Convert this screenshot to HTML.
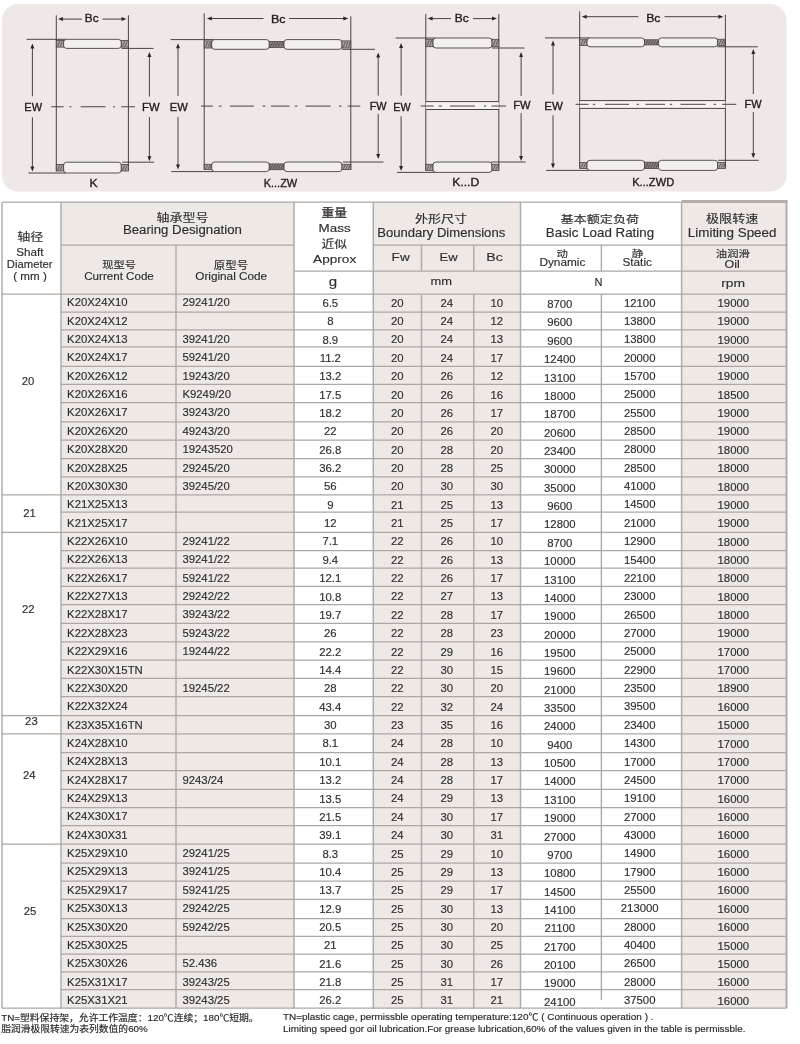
<!DOCTYPE html><html><head><meta charset="utf-8"><title>K type needle roller and cage assemblies</title>
<style>html,body{margin:0;padding:0;background:#fff;}body{width:800px;height:1044px;overflow:hidden;position:relative;}svg{position:absolute;left:0;top:0;} text{font-family:'Liberation Sans','Noto Sans CJK SC',sans-serif;}</style></head><body>
<svg width="800" height="1044" viewBox="0 0 800 1044" fill="#2e2e2e">
<rect x="2" y="4" width="784.5" height="187.5" rx="16" ry="16" fill="#eee9e7"/>
<g><line x1="56.30" y1="15.30" x2="56.30" y2="171.00" stroke="#4a4240" stroke-width="1.0"/><line x1="128.40" y1="15.30" x2="128.40" y2="171.00" stroke="#4a4240" stroke-width="1.0"/><line x1="26.60" y1="39.30" x2="66.10" y2="39.30" stroke="#4a4240" stroke-width="1.0"/><line x1="28.40" y1="173.00" x2="66.10" y2="173.00" stroke="#4a4240" stroke-width="1.0"/><line x1="121.50" y1="48.40" x2="153.50" y2="48.40" stroke="#4a4240" stroke-width="1.0"/><line x1="122.20" y1="162.20" x2="154.00" y2="162.20" stroke="#4a4240" stroke-width="1.0"/><rect x="56.30" y="40.60" width="7.30" height="6.50" fill="#aaa3a0" stroke="#4a4240" stroke-width="0.8"/><line x1="57.50" y1="46.30" x2="59.70" y2="41.40" stroke="#3e3634" stroke-width="0.7"/><line x1="60.10" y1="46.30" x2="62.30" y2="41.40" stroke="#3e3634" stroke-width="0.7"/><rect x="63.60" y="39.30" width="57.70" height="9.10" rx="3.0" ry="3.0" fill="#f3efed" stroke="#4a4240" stroke-width="0.9"/><rect x="121.30" y="40.60" width="7.10" height="6.50" fill="#aaa3a0" stroke="#4a4240" stroke-width="0.8"/><line x1="122.50" y1="46.30" x2="124.70" y2="41.40" stroke="#3e3634" stroke-width="0.7"/><line x1="125.10" y1="46.30" x2="127.30" y2="41.40" stroke="#3e3634" stroke-width="0.7"/><rect x="56.30" y="164.50" width="7.30" height="6.50" fill="#aaa3a0" stroke="#4a4240" stroke-width="0.8"/><line x1="57.50" y1="170.20" x2="59.70" y2="165.30" stroke="#3e3634" stroke-width="0.7"/><line x1="60.10" y1="170.20" x2="62.30" y2="165.30" stroke="#3e3634" stroke-width="0.7"/><rect x="63.60" y="162.20" width="57.70" height="10.80" rx="3.0" ry="3.0" fill="#f3efed" stroke="#4a4240" stroke-width="0.9"/><rect x="121.30" y="164.50" width="7.10" height="6.50" fill="#aaa3a0" stroke="#4a4240" stroke-width="0.8"/><line x1="122.50" y1="170.20" x2="124.70" y2="165.30" stroke="#3e3634" stroke-width="0.7"/><line x1="125.10" y1="170.20" x2="127.30" y2="165.30" stroke="#3e3634" stroke-width="0.7"/><line x1="32.40" y1="47.40" x2="32.40" y2="96.30" stroke="#4a4240" stroke-width="1.0"/><line x1="32.40" y1="117.30" x2="32.40" y2="167.60" stroke="#4a4240" stroke-width="1.0"/><polygon points="32.40,43.40 30.40,48.40 34.40,48.40" fill="#2e2624"/><polygon points="32.40,171.60 30.40,166.60 34.40,166.60" fill="#2e2624"/><line x1="149.40" y1="55.90" x2="149.40" y2="96.50" stroke="#4a4240" stroke-width="1.0"/><line x1="149.40" y1="117.00" x2="149.40" y2="157.30" stroke="#4a4240" stroke-width="1.0"/><polygon points="149.40,51.90 147.40,56.90 151.40,56.90" fill="#2e2624"/><polygon points="149.40,161.30 147.40,156.30 151.40,156.30" fill="#2e2624"/><line x1="62.00" y1="19.10" x2="81.90" y2="19.10" stroke="#4a4240" stroke-width="1.0"/><line x1="102.50" y1="19.10" x2="122.50" y2="19.10" stroke="#4a4240" stroke-width="1.0"/><polygon points="58.00,19.10 63.00,17.10 63.00,21.10" fill="#2e2624"/><polygon points="126.50,19.10 121.50,17.10 121.50,21.10" fill="#2e2624"/><line x1="51.25" y1="106.75" x2="63.75" y2="106.75" stroke="#4a4240" stroke-width="1.0"/><line x1="69.40" y1="106.75" x2="71.50" y2="106.75" stroke="#4a4240" stroke-width="1.0"/><line x1="80.60" y1="106.75" x2="105.60" y2="106.75" stroke="#4a4240" stroke-width="1.0"/><line x1="113.10" y1="106.75" x2="115.00" y2="106.75" stroke="#4a4240" stroke-width="1.0"/><line x1="121.25" y1="106.75" x2="135.00" y2="106.75" stroke="#4a4240" stroke-width="1.0"/><line x1="204.20" y1="13.30" x2="204.20" y2="169.60" stroke="#4a4240" stroke-width="1.0"/><line x1="350.80" y1="16.30" x2="350.80" y2="169.60" stroke="#4a4240" stroke-width="1.0"/><line x1="170.50" y1="39.60" x2="214.20" y2="39.60" stroke="#4a4240" stroke-width="1.0"/><line x1="171.40" y1="171.60" x2="214.20" y2="171.60" stroke="#4a4240" stroke-width="1.0"/><line x1="342.00" y1="49.30" x2="375.00" y2="49.30" stroke="#4a4240" stroke-width="1.0"/><line x1="343.00" y1="162.00" x2="383.50" y2="162.00" stroke="#4a4240" stroke-width="1.0"/><rect x="204.20" y="40.90" width="7.50" height="7.10" fill="#aaa3a0" stroke="#4a4240" stroke-width="0.8"/><line x1="205.40" y1="47.20" x2="207.60" y2="41.70" stroke="#3e3634" stroke-width="0.7"/><line x1="208.00" y1="47.20" x2="210.20" y2="41.70" stroke="#3e3634" stroke-width="0.7"/><line x1="210.60" y1="47.20" x2="211.30" y2="41.70" stroke="#3e3634" stroke-width="0.7"/><rect x="211.70" y="39.60" width="57.60" height="9.70" rx="3.0" ry="3.0" fill="#f3efed" stroke="#4a4240" stroke-width="0.9"/><rect x="269.30" y="41.50" width="14.70" height="5.90" fill="#8a827f" stroke="#4a4240" stroke-width="0.8"/><line x1="270.50" y1="46.60" x2="272.70" y2="42.30" stroke="#3e3634" stroke-width="0.7"/><line x1="273.10" y1="46.60" x2="275.30" y2="42.30" stroke="#3e3634" stroke-width="0.7"/><line x1="275.70" y1="46.60" x2="277.90" y2="42.30" stroke="#3e3634" stroke-width="0.7"/><line x1="278.30" y1="46.60" x2="280.50" y2="42.30" stroke="#3e3634" stroke-width="0.7"/><line x1="280.90" y1="46.60" x2="283.10" y2="42.30" stroke="#3e3634" stroke-width="0.7"/><rect x="284.00" y="39.60" width="58.00" height="9.70" rx="3.0" ry="3.0" fill="#f3efed" stroke="#4a4240" stroke-width="0.9"/><rect x="342.00" y="40.90" width="8.80" height="7.10" fill="#aaa3a0" stroke="#4a4240" stroke-width="0.8"/><line x1="343.20" y1="47.20" x2="345.40" y2="41.70" stroke="#3e3634" stroke-width="0.7"/><line x1="345.80" y1="47.20" x2="348.00" y2="41.70" stroke="#3e3634" stroke-width="0.7"/><line x1="348.40" y1="47.20" x2="350.40" y2="41.70" stroke="#3e3634" stroke-width="0.7"/><rect x="204.20" y="164.30" width="7.50" height="5.30" fill="#aaa3a0" stroke="#4a4240" stroke-width="0.8"/><line x1="205.40" y1="168.80" x2="207.60" y2="165.10" stroke="#3e3634" stroke-width="0.7"/><line x1="208.00" y1="168.80" x2="210.20" y2="165.10" stroke="#3e3634" stroke-width="0.7"/><line x1="210.60" y1="168.80" x2="211.30" y2="165.10" stroke="#3e3634" stroke-width="0.7"/><rect x="211.70" y="162.00" width="57.60" height="9.60" rx="3.0" ry="3.0" fill="#f3efed" stroke="#4a4240" stroke-width="0.9"/><rect x="269.30" y="163.90" width="14.70" height="5.80" fill="#8a827f" stroke="#4a4240" stroke-width="0.8"/><line x1="270.50" y1="168.90" x2="272.70" y2="164.70" stroke="#3e3634" stroke-width="0.7"/><line x1="273.10" y1="168.90" x2="275.30" y2="164.70" stroke="#3e3634" stroke-width="0.7"/><line x1="275.70" y1="168.90" x2="277.90" y2="164.70" stroke="#3e3634" stroke-width="0.7"/><line x1="278.30" y1="168.90" x2="280.50" y2="164.70" stroke="#3e3634" stroke-width="0.7"/><line x1="280.90" y1="168.90" x2="283.10" y2="164.70" stroke="#3e3634" stroke-width="0.7"/><rect x="284.00" y="162.00" width="58.00" height="9.60" rx="3.0" ry="3.0" fill="#f3efed" stroke="#4a4240" stroke-width="0.9"/><rect x="342.00" y="164.30" width="8.80" height="5.30" fill="#aaa3a0" stroke="#4a4240" stroke-width="0.8"/><line x1="343.20" y1="168.80" x2="345.40" y2="165.10" stroke="#3e3634" stroke-width="0.7"/><line x1="345.80" y1="168.80" x2="348.00" y2="165.10" stroke="#3e3634" stroke-width="0.7"/><line x1="348.40" y1="168.80" x2="350.40" y2="165.10" stroke="#3e3634" stroke-width="0.7"/><line x1="178.00" y1="47.30" x2="178.00" y2="96.00" stroke="#4a4240" stroke-width="1.0"/><line x1="178.00" y1="117.00" x2="178.00" y2="165.50" stroke="#4a4240" stroke-width="1.0"/><polygon points="178.00,43.30 176.00,48.30 180.00,48.30" fill="#2e2624"/><polygon points="178.00,169.50 176.00,164.50 180.00,164.50" fill="#2e2624"/><line x1="378.20" y1="56.50" x2="378.20" y2="95.60" stroke="#4a4240" stroke-width="1.0"/><line x1="378.20" y1="113.90" x2="378.20" y2="155.00" stroke="#4a4240" stroke-width="1.0"/><polygon points="378.20,52.50 376.20,57.50 380.20,57.50" fill="#2e2624"/><polygon points="378.20,159.00 376.20,154.00 380.20,154.00" fill="#2e2624"/><line x1="210.80" y1="18.50" x2="263.50" y2="18.50" stroke="#4a4240" stroke-width="1.0"/><line x1="289.00" y1="18.50" x2="344.30" y2="18.50" stroke="#4a4240" stroke-width="1.0"/><polygon points="206.80,18.50 211.80,16.50 211.80,20.50" fill="#2e2624"/><polygon points="348.30,18.50 343.30,16.50 343.30,20.50" fill="#2e2624"/><line x1="201.00" y1="106.10" x2="213.00" y2="106.10" stroke="#4a4240" stroke-width="1.0"/><line x1="218.80" y1="106.10" x2="221.60" y2="106.10" stroke="#4a4240" stroke-width="1.0"/><line x1="230.00" y1="106.10" x2="254.00" y2="106.10" stroke="#4a4240" stroke-width="1.0"/><line x1="262.60" y1="106.10" x2="265.50" y2="106.10" stroke="#4a4240" stroke-width="1.0"/><line x1="271.00" y1="106.10" x2="289.60" y2="106.10" stroke="#4a4240" stroke-width="1.0"/><line x1="294.90" y1="106.10" x2="297.40" y2="106.10" stroke="#4a4240" stroke-width="1.0"/><line x1="305.50" y1="106.10" x2="330.60" y2="106.10" stroke="#4a4240" stroke-width="1.0"/><line x1="339.00" y1="106.10" x2="341.60" y2="106.10" stroke="#4a4240" stroke-width="1.0"/><line x1="347.60" y1="106.10" x2="360.30" y2="106.10" stroke="#4a4240" stroke-width="1.0"/><line x1="425.80" y1="14.00" x2="425.80" y2="170.40" stroke="#4a4240" stroke-width="1.0"/><line x1="498.80" y1="14.00" x2="498.80" y2="170.40" stroke="#4a4240" stroke-width="1.0"/><line x1="395.60" y1="38.00" x2="435.50" y2="38.00" stroke="#4a4240" stroke-width="1.0"/><line x1="397.00" y1="172.40" x2="435.50" y2="172.40" stroke="#4a4240" stroke-width="1.0"/><line x1="492.00" y1="48.00" x2="524.40" y2="48.00" stroke="#4a4240" stroke-width="1.0"/><line x1="491.00" y1="162.00" x2="525.60" y2="162.00" stroke="#4a4240" stroke-width="1.0"/><rect x="425.80" y="39.30" width="7.20" height="7.40" fill="#aaa3a0" stroke="#4a4240" stroke-width="0.8"/><line x1="427.00" y1="45.90" x2="429.20" y2="40.10" stroke="#3e3634" stroke-width="0.7"/><line x1="429.60" y1="45.90" x2="431.80" y2="40.10" stroke="#3e3634" stroke-width="0.7"/><rect x="433.00" y="38.00" width="59.00" height="10.00" rx="3.0" ry="3.0" fill="#f3efed" stroke="#4a4240" stroke-width="0.9"/><rect x="492.00" y="39.30" width="6.80" height="7.40" fill="#aaa3a0" stroke="#4a4240" stroke-width="0.8"/><line x1="493.20" y1="45.90" x2="495.40" y2="40.10" stroke="#3e3634" stroke-width="0.7"/><line x1="495.80" y1="45.90" x2="498.00" y2="40.10" stroke="#3e3634" stroke-width="0.7"/><rect x="425.80" y="164.30" width="7.20" height="6.10" fill="#aaa3a0" stroke="#4a4240" stroke-width="0.8"/><line x1="427.00" y1="169.60" x2="429.20" y2="165.10" stroke="#3e3634" stroke-width="0.7"/><line x1="429.60" y1="169.60" x2="431.80" y2="165.10" stroke="#3e3634" stroke-width="0.7"/><rect x="433.00" y="162.00" width="59.00" height="10.40" rx="3.0" ry="3.0" fill="#f3efed" stroke="#4a4240" stroke-width="0.9"/><rect x="492.00" y="164.30" width="6.80" height="6.10" fill="#aaa3a0" stroke="#4a4240" stroke-width="0.8"/><line x1="493.20" y1="169.60" x2="495.40" y2="165.10" stroke="#3e3634" stroke-width="0.7"/><line x1="495.80" y1="169.60" x2="498.00" y2="165.10" stroke="#3e3634" stroke-width="0.7"/><line x1="401.10" y1="47.00" x2="401.10" y2="95.60" stroke="#4a4240" stroke-width="1.0"/><line x1="401.10" y1="116.30" x2="401.10" y2="167.00" stroke="#4a4240" stroke-width="1.0"/><polygon points="401.10,43.00 399.10,48.00 403.10,48.00" fill="#2e2624"/><polygon points="401.10,171.00 399.10,166.00 403.10,166.00" fill="#2e2624"/><line x1="521.10" y1="56.00" x2="521.10" y2="96.00" stroke="#4a4240" stroke-width="1.0"/><line x1="521.10" y1="113.00" x2="521.10" y2="157.00" stroke="#4a4240" stroke-width="1.0"/><polygon points="521.10,52.00 519.10,57.00 523.10,57.00" fill="#2e2624"/><polygon points="521.10,161.00 519.10,156.00 523.10,156.00" fill="#2e2624"/><line x1="431.60" y1="18.60" x2="451.00" y2="18.60" stroke="#4a4240" stroke-width="1.0"/><line x1="473.00" y1="18.60" x2="493.00" y2="18.60" stroke="#4a4240" stroke-width="1.0"/><polygon points="427.60,18.60 432.60,16.60 432.60,20.60" fill="#2e2624"/><polygon points="497.00,18.60 492.00,16.60 492.00,20.60" fill="#2e2624"/><rect x="425.80" y="101.60" width="73.00" height="7.90" fill="#f6f3f1"/><line x1="425.80" y1="101.60" x2="498.80" y2="101.60" stroke="#4a4240" stroke-width="1.0"/><line x1="425.80" y1="109.50" x2="498.80" y2="109.50" stroke="#4a4240" stroke-width="1.0"/><line x1="420.60" y1="106.00" x2="433.75" y2="106.00" stroke="#4a4240" stroke-width="1.0"/><line x1="438.75" y1="106.00" x2="441.90" y2="106.00" stroke="#4a4240" stroke-width="1.0"/><line x1="450.00" y1="106.00" x2="475.00" y2="106.00" stroke="#4a4240" stroke-width="1.0"/><line x1="484.00" y1="106.00" x2="486.25" y2="106.00" stroke="#4a4240" stroke-width="1.0"/><line x1="491.50" y1="106.00" x2="506.00" y2="106.00" stroke="#4a4240" stroke-width="1.0"/><line x1="579.70" y1="11.40" x2="579.70" y2="168.40" stroke="#4a4240" stroke-width="1.0"/><line x1="725.40" y1="14.60" x2="725.40" y2="168.40" stroke="#4a4240" stroke-width="1.0"/><line x1="545.00" y1="37.90" x2="589.50" y2="37.90" stroke="#4a4240" stroke-width="1.0"/><line x1="546.00" y1="170.40" x2="589.50" y2="170.40" stroke="#4a4240" stroke-width="1.0"/><line x1="717.50" y1="46.80" x2="757.80" y2="46.80" stroke="#4a4240" stroke-width="1.0"/><line x1="718.00" y1="160.30" x2="758.80" y2="160.30" stroke="#4a4240" stroke-width="1.0"/><rect x="579.70" y="39.20" width="7.30" height="6.30" fill="#aaa3a0" stroke="#4a4240" stroke-width="0.8"/><line x1="580.90" y1="44.70" x2="583.10" y2="40.00" stroke="#3e3634" stroke-width="0.7"/><line x1="583.50" y1="44.70" x2="585.70" y2="40.00" stroke="#3e3634" stroke-width="0.7"/><rect x="587.00" y="37.90" width="57.50" height="8.90" rx="3.0" ry="3.0" fill="#f3efed" stroke="#4a4240" stroke-width="0.9"/><rect x="644.50" y="39.80" width="14.00" height="5.10" fill="#8a827f" stroke="#4a4240" stroke-width="0.8"/><line x1="645.70" y1="44.10" x2="647.90" y2="40.60" stroke="#3e3634" stroke-width="0.7"/><line x1="648.30" y1="44.10" x2="650.50" y2="40.60" stroke="#3e3634" stroke-width="0.7"/><line x1="650.90" y1="44.10" x2="653.10" y2="40.60" stroke="#3e3634" stroke-width="0.7"/><line x1="653.50" y1="44.10" x2="655.70" y2="40.60" stroke="#3e3634" stroke-width="0.7"/><line x1="656.10" y1="44.10" x2="658.10" y2="40.60" stroke="#3e3634" stroke-width="0.7"/><rect x="658.50" y="37.90" width="59.20" height="8.90" rx="3.0" ry="3.0" fill="#f3efed" stroke="#4a4240" stroke-width="0.9"/><rect x="717.70" y="39.20" width="7.70" height="6.30" fill="#aaa3a0" stroke="#4a4240" stroke-width="0.8"/><line x1="718.90" y1="44.70" x2="721.10" y2="40.00" stroke="#3e3634" stroke-width="0.7"/><line x1="721.50" y1="44.70" x2="723.70" y2="40.00" stroke="#3e3634" stroke-width="0.7"/><line x1="724.10" y1="44.70" x2="725.00" y2="40.00" stroke="#3e3634" stroke-width="0.7"/><rect x="579.70" y="162.60" width="7.30" height="5.80" fill="#aaa3a0" stroke="#4a4240" stroke-width="0.8"/><line x1="580.90" y1="167.60" x2="583.10" y2="163.40" stroke="#3e3634" stroke-width="0.7"/><line x1="583.50" y1="167.60" x2="585.70" y2="163.40" stroke="#3e3634" stroke-width="0.7"/><rect x="587.00" y="160.30" width="57.50" height="10.10" rx="3.0" ry="3.0" fill="#f3efed" stroke="#4a4240" stroke-width="0.9"/><rect x="644.50" y="162.20" width="14.00" height="6.30" fill="#8a827f" stroke="#4a4240" stroke-width="0.8"/><line x1="645.70" y1="167.70" x2="647.90" y2="163.00" stroke="#3e3634" stroke-width="0.7"/><line x1="648.30" y1="167.70" x2="650.50" y2="163.00" stroke="#3e3634" stroke-width="0.7"/><line x1="650.90" y1="167.70" x2="653.10" y2="163.00" stroke="#3e3634" stroke-width="0.7"/><line x1="653.50" y1="167.70" x2="655.70" y2="163.00" stroke="#3e3634" stroke-width="0.7"/><line x1="656.10" y1="167.70" x2="658.10" y2="163.00" stroke="#3e3634" stroke-width="0.7"/><rect x="658.50" y="160.30" width="59.20" height="10.10" rx="3.0" ry="3.0" fill="#f3efed" stroke="#4a4240" stroke-width="0.9"/><rect x="717.70" y="162.60" width="7.70" height="5.80" fill="#aaa3a0" stroke="#4a4240" stroke-width="0.8"/><line x1="718.90" y1="167.60" x2="721.10" y2="163.40" stroke="#3e3634" stroke-width="0.7"/><line x1="721.50" y1="167.60" x2="723.70" y2="163.40" stroke="#3e3634" stroke-width="0.7"/><line x1="724.10" y1="167.60" x2="725.00" y2="163.40" stroke="#3e3634" stroke-width="0.7"/><line x1="553.00" y1="44.50" x2="553.00" y2="94.40" stroke="#4a4240" stroke-width="1.0"/><line x1="553.00" y1="115.30" x2="553.00" y2="164.40" stroke="#4a4240" stroke-width="1.0"/><polygon points="553.00,40.50 551.00,45.50 555.00,45.50" fill="#2e2624"/><polygon points="553.00,168.40 551.00,163.40 555.00,163.40" fill="#2e2624"/><line x1="753.30" y1="53.00" x2="753.30" y2="94.00" stroke="#4a4240" stroke-width="1.0"/><line x1="753.30" y1="111.90" x2="753.30" y2="154.30" stroke="#4a4240" stroke-width="1.0"/><polygon points="753.30,49.00 751.30,54.00 755.30,54.00" fill="#2e2624"/><polygon points="753.30,158.30 751.30,153.30 755.30,153.30" fill="#2e2624"/><line x1="585.70" y1="16.70" x2="638.40" y2="16.70" stroke="#4a4240" stroke-width="1.0"/><line x1="664.60" y1="16.70" x2="719.40" y2="16.70" stroke="#4a4240" stroke-width="1.0"/><polygon points="581.70,16.70 586.70,14.70 586.70,18.70" fill="#2e2624"/><polygon points="723.40,16.70 718.40,14.70 718.40,18.70" fill="#2e2624"/><rect x="579.70" y="100.60" width="145.70" height="7.80" fill="#f6f3f1"/><line x1="579.70" y1="100.60" x2="725.40" y2="100.60" stroke="#4a4240" stroke-width="1.0"/><line x1="579.70" y1="108.40" x2="725.40" y2="108.40" stroke="#4a4240" stroke-width="1.0"/><line x1="575.50" y1="104.30" x2="588.60" y2="104.30" stroke="#4a4240" stroke-width="1.0"/><line x1="592.80" y1="104.30" x2="595.20" y2="104.30" stroke="#4a4240" stroke-width="1.0"/><line x1="605.00" y1="104.30" x2="629.00" y2="104.30" stroke="#4a4240" stroke-width="1.0"/><line x1="636.60" y1="104.30" x2="639.00" y2="104.30" stroke="#4a4240" stroke-width="1.0"/><line x1="645.50" y1="104.30" x2="665.00" y2="104.30" stroke="#4a4240" stroke-width="1.0"/><line x1="669.80" y1="104.30" x2="672.20" y2="104.30" stroke="#4a4240" stroke-width="1.0"/><line x1="680.50" y1="104.30" x2="705.60" y2="104.30" stroke="#4a4240" stroke-width="1.0"/><line x1="713.60" y1="104.30" x2="716.00" y2="104.30" stroke="#4a4240" stroke-width="1.0"/><line x1="722.00" y1="104.30" x2="736.30" y2="104.30" stroke="#4a4240" stroke-width="1.0"/></g>
<text x="91.70" y="22.40" font-size="11" text-anchor="middle" textLength="13.74" lengthAdjust="spacingAndGlyphs" fill="#221d1c" stroke="#221d1c" stroke-width="0.35">Bc</text>
<text x="33.17" y="110.90" font-size="11" text-anchor="middle" textLength="17.69" lengthAdjust="spacingAndGlyphs" fill="#221d1c" stroke="#221d1c" stroke-width="0.35">EW</text>
<text x="150.80" y="110.70" font-size="11" text-anchor="middle" textLength="17.54" lengthAdjust="spacingAndGlyphs" fill="#221d1c" stroke="#221d1c" stroke-width="0.35">FW</text>
<text x="93.60" y="186.60" font-size="11" text-anchor="middle" textLength="8.14" lengthAdjust="spacingAndGlyphs" fill="#221d1c" stroke="#221d1c" stroke-width="0.35">K</text>
<text x="278.30" y="23.00" font-size="11" text-anchor="middle" textLength="14.54" lengthAdjust="spacingAndGlyphs" fill="#221d1c" stroke="#221d1c" stroke-width="0.35">Bc</text>
<text x="178.75" y="111.00" font-size="11" text-anchor="middle" textLength="18.04" lengthAdjust="spacingAndGlyphs" fill="#221d1c" stroke="#221d1c" stroke-width="0.35">EW</text>
<text x="378.20" y="110.10" font-size="11" text-anchor="middle" textLength="16.94" lengthAdjust="spacingAndGlyphs" fill="#221d1c" stroke="#221d1c" stroke-width="0.35">FW</text>
<text x="280.45" y="186.60" font-size="11" text-anchor="middle" textLength="33.64" lengthAdjust="spacingAndGlyphs" fill="#221d1c" stroke="#221d1c" stroke-width="0.35">K...ZW</text>
<text x="461.80" y="22.20" font-size="11" text-anchor="middle" textLength="13.94" lengthAdjust="spacingAndGlyphs" fill="#221d1c" stroke="#221d1c" stroke-width="0.35">Bc</text>
<text x="402.00" y="110.60" font-size="11" text-anchor="middle" textLength="17.34" lengthAdjust="spacingAndGlyphs" fill="#221d1c" stroke="#221d1c" stroke-width="0.35">EW</text>
<text x="521.88" y="109.00" font-size="11" text-anchor="middle" textLength="17.29" lengthAdjust="spacingAndGlyphs" fill="#221d1c" stroke="#221d1c" stroke-width="0.35">FW</text>
<text x="465.70" y="186.30" font-size="11" text-anchor="middle" textLength="26.94" lengthAdjust="spacingAndGlyphs" fill="#221d1c" stroke="#221d1c" stroke-width="0.35">K...D</text>
<text x="653.35" y="22.00" font-size="11" text-anchor="middle" textLength="14.24" lengthAdjust="spacingAndGlyphs" fill="#221d1c" stroke="#221d1c" stroke-width="0.35">Bc</text>
<text x="553.50" y="109.70" font-size="11" text-anchor="middle" textLength="18.54" lengthAdjust="spacingAndGlyphs" fill="#221d1c" stroke="#221d1c" stroke-width="0.35">EW</text>
<text x="753.10" y="107.80" font-size="11" text-anchor="middle" textLength="17.14" lengthAdjust="spacingAndGlyphs" fill="#221d1c" stroke="#221d1c" stroke-width="0.35">FW</text>
<text x="653.20" y="186.30" font-size="11" text-anchor="middle" textLength="41.94" lengthAdjust="spacingAndGlyphs" fill="#221d1c" stroke="#221d1c" stroke-width="0.35">K...ZWD</text>
<rect x="61.00" y="202.20" width="233.00" height="806.00" fill="#efe9e6"/>
<rect x="373.30" y="202.20" width="147.20" height="806.00" fill="#efe9e6"/>
<rect x="681.60" y="202.20" width="104.90" height="806.00" fill="#efe9e6"/>
<g><line x1="2.00" y1="202.20" x2="2.00" y2="1008.20" stroke="#b1acaa" stroke-width="1.5"/><line x1="61.00" y1="202.20" x2="61.00" y2="1008.20" stroke="#b1acaa" stroke-width="1.5"/><line x1="176.00" y1="245.00" x2="176.00" y2="1008.20" stroke="#b1acaa" stroke-width="1.5"/><line x1="294.00" y1="202.20" x2="294.00" y2="1008.20" stroke="#b1acaa" stroke-width="1.5"/><line x1="373.30" y1="202.20" x2="373.30" y2="1008.20" stroke="#b1acaa" stroke-width="1.5"/><line x1="421.50" y1="245.00" x2="421.50" y2="271.00" stroke="#b1acaa" stroke-width="1.5"/><line x1="473.80" y1="245.00" x2="473.80" y2="271.00" stroke="#b1acaa" stroke-width="1.5"/><line x1="421.50" y1="294.20" x2="421.50" y2="1008.20" stroke="#b1acaa" stroke-width="1.5"/><line x1="473.80" y1="294.20" x2="473.80" y2="1008.20" stroke="#b1acaa" stroke-width="1.5"/><line x1="520.50" y1="202.20" x2="520.50" y2="1008.20" stroke="#b1acaa" stroke-width="1.5"/><line x1="601.40" y1="245.00" x2="601.40" y2="271.00" stroke="#b1acaa" stroke-width="1.5"/><line x1="601.40" y1="294.20" x2="601.40" y2="1000.00" stroke="#b1acaa" stroke-width="1.5"/><line x1="681.60" y1="202.20" x2="681.60" y2="1008.20" stroke="#b1acaa" stroke-width="1.5"/><line x1="786.50" y1="200.50" x2="786.50" y2="1008.20" stroke="#b1acaa" stroke-width="2.0"/><line x1="2.00" y1="202.20" x2="681.60" y2="202.20" stroke="#aca7a4" stroke-width="1.25"/><rect x="681.60" y="200.0" width="105.90" height="3.0" fill="#b3aeab"/><line x1="61.00" y1="245.00" x2="294.00" y2="245.00" stroke="#aca7a4" stroke-width="1.25"/><line x1="373.30" y1="245.00" x2="786.50" y2="245.00" stroke="#aca7a4" stroke-width="1.25"/><line x1="294.00" y1="271.00" x2="786.50" y2="271.00" stroke="#aca7a4" stroke-width="1.25"/><line x1="2.00" y1="294.20" x2="786.50" y2="294.20" stroke="#aca7a4" stroke-width="1.25"/><line x1="61.00" y1="312.00" x2="786.50" y2="312.00" stroke="#aca7a4" stroke-width="1.25"/><line x1="61.00" y1="329.90" x2="786.50" y2="329.90" stroke="#aca7a4" stroke-width="1.25"/><line x1="61.00" y1="346.80" x2="786.50" y2="346.80" stroke="#aca7a4" stroke-width="1.25"/><line x1="61.00" y1="366.30" x2="786.50" y2="366.30" stroke="#aca7a4" stroke-width="1.25"/><line x1="61.00" y1="384.40" x2="786.50" y2="384.40" stroke="#aca7a4" stroke-width="1.25"/><line x1="61.00" y1="402.60" x2="786.50" y2="402.60" stroke="#aca7a4" stroke-width="1.25"/><line x1="61.00" y1="421.80" x2="786.50" y2="421.80" stroke="#aca7a4" stroke-width="1.25"/><line x1="61.00" y1="440.00" x2="786.50" y2="440.00" stroke="#aca7a4" stroke-width="1.25"/><line x1="61.00" y1="458.60" x2="786.50" y2="458.60" stroke="#aca7a4" stroke-width="1.25"/><line x1="61.00" y1="476.80" x2="786.50" y2="476.80" stroke="#aca7a4" stroke-width="1.25"/><line x1="2.00" y1="494.90" x2="786.50" y2="494.90" stroke="#aca7a4" stroke-width="1.25"/><line x1="61.00" y1="512.10" x2="786.50" y2="512.10" stroke="#aca7a4" stroke-width="1.25"/><line x1="2.00" y1="532.30" x2="786.50" y2="532.30" stroke="#aca7a4" stroke-width="1.25"/><line x1="61.00" y1="550.50" x2="786.50" y2="550.50" stroke="#aca7a4" stroke-width="1.25"/><line x1="61.00" y1="568.10" x2="786.50" y2="568.10" stroke="#aca7a4" stroke-width="1.25"/><line x1="61.00" y1="586.30" x2="786.50" y2="586.30" stroke="#aca7a4" stroke-width="1.25"/><line x1="61.00" y1="604.70" x2="786.50" y2="604.70" stroke="#aca7a4" stroke-width="1.25"/><line x1="61.00" y1="623.30" x2="786.50" y2="623.30" stroke="#aca7a4" stroke-width="1.25"/><line x1="61.00" y1="641.80" x2="786.50" y2="641.80" stroke="#aca7a4" stroke-width="1.25"/><line x1="61.00" y1="660.00" x2="786.50" y2="660.00" stroke="#aca7a4" stroke-width="1.25"/><line x1="61.00" y1="678.40" x2="786.50" y2="678.40" stroke="#aca7a4" stroke-width="1.25"/><line x1="61.00" y1="696.70" x2="786.50" y2="696.70" stroke="#aca7a4" stroke-width="1.25"/><line x1="2.00" y1="715.50" x2="786.50" y2="715.50" stroke="#aca7a4" stroke-width="1.25"/><line x1="2.00" y1="733.90" x2="786.50" y2="733.90" stroke="#aca7a4" stroke-width="1.25"/><line x1="61.00" y1="752.50" x2="786.50" y2="752.50" stroke="#aca7a4" stroke-width="1.25"/><line x1="61.00" y1="770.70" x2="786.50" y2="770.70" stroke="#aca7a4" stroke-width="1.25"/><line x1="61.00" y1="789.30" x2="786.50" y2="789.30" stroke="#aca7a4" stroke-width="1.25"/><line x1="61.00" y1="807.50" x2="786.50" y2="807.50" stroke="#aca7a4" stroke-width="1.25"/><line x1="61.00" y1="825.70" x2="786.50" y2="825.70" stroke="#aca7a4" stroke-width="1.25"/><line x1="2.00" y1="844.10" x2="786.50" y2="844.10" stroke="#aca7a4" stroke-width="1.25"/><line x1="61.00" y1="863.00" x2="786.50" y2="863.00" stroke="#aca7a4" stroke-width="1.25"/><line x1="61.00" y1="881.10" x2="786.50" y2="881.10" stroke="#aca7a4" stroke-width="1.25"/><line x1="61.00" y1="899.30" x2="786.50" y2="899.30" stroke="#aca7a4" stroke-width="1.25"/><line x1="61.00" y1="918.50" x2="786.50" y2="918.50" stroke="#aca7a4" stroke-width="1.25"/><line x1="61.00" y1="936.30" x2="786.50" y2="936.30" stroke="#aca7a4" stroke-width="1.25"/><line x1="61.00" y1="954.10" x2="786.50" y2="954.10" stroke="#aca7a4" stroke-width="1.25"/><line x1="61.00" y1="971.80" x2="786.50" y2="971.80" stroke="#aca7a4" stroke-width="1.25"/><line x1="61.00" y1="989.70" x2="786.50" y2="989.70" stroke="#aca7a4" stroke-width="1.25"/><line x1="2.00" y1="1008.20" x2="786.50" y2="1008.20" stroke="#aca7a4" stroke-width="1.25"/></g>
<text x="182.45" y="222.10" font-size="11.29" text-anchor="middle" textLength="51.83" lengthAdjust="spacingAndGlyphs" stroke="#2e2e2e" stroke-width="0.15">轴承型号</text>
<text x="182.38" y="233.90" font-size="11.87" text-anchor="middle" textLength="118.91" lengthAdjust="spacingAndGlyphs" stroke="#2e2e2e" stroke-width="0.15">Bearing Designation</text>
<text x="334.35" y="216.70" font-size="11.29" text-anchor="middle" textLength="25.63" lengthAdjust="spacingAndGlyphs" fill="#4a4646" font-weight="bold" stroke="#4a4646" stroke-width="0.15">重量</text>
<text x="334.65" y="231.90" font-size="11.03" text-anchor="middle" textLength="32.04" lengthAdjust="spacingAndGlyphs" stroke="#2e2e2e" stroke-width="0.15">Mass</text>
<text x="334.35" y="247.53" font-size="10.86" text-anchor="middle" textLength="25.59" lengthAdjust="spacingAndGlyphs" stroke="#2e2e2e" stroke-width="0.15">近似</text>
<text x="334.65" y="263.00" font-size="11.45" text-anchor="middle" textLength="43.10" lengthAdjust="spacingAndGlyphs" stroke="#2e2e2e" stroke-width="0.15">Approx</text>
<text x="440.95" y="222.72" font-size="10.97" text-anchor="middle" textLength="52.00" lengthAdjust="spacingAndGlyphs" stroke="#2e2e2e" stroke-width="0.15">外形尺寸</text>
<text x="441.25" y="236.90" font-size="12.01" text-anchor="middle" textLength="127.98" lengthAdjust="spacingAndGlyphs" stroke="#2e2e2e" stroke-width="0.15">Boundary Dimensions</text>
<text x="599.80" y="222.74" font-size="10.75" text-anchor="middle" textLength="78.68" lengthAdjust="spacingAndGlyphs" stroke="#2e2e2e" stroke-width="0.15">基本额定负荷</text>
<text x="600.00" y="236.75" font-size="11.94" text-anchor="middle" textLength="108.27" lengthAdjust="spacingAndGlyphs" stroke="#2e2e2e" stroke-width="0.15">Basic Load Rating</text>
<text x="732.15" y="222.52" font-size="10.97" text-anchor="middle" textLength="52.20" lengthAdjust="spacingAndGlyphs" stroke="#2e2e2e" stroke-width="0.15">极限转速</text>
<text x="732.15" y="237.40" font-size="12.43" text-anchor="middle" textLength="88.64" lengthAdjust="spacingAndGlyphs" stroke="#2e2e2e" stroke-width="0.15">Limiting Speed</text>
<text x="30.32" y="240.77" font-size="11.02" text-anchor="middle" textLength="26.25" lengthAdjust="spacingAndGlyphs" stroke="#2e2e2e" stroke-width="0.15">轴径</text>
<text x="29.95" y="256.10" font-size="10.47" text-anchor="middle" textLength="27.37" lengthAdjust="spacingAndGlyphs" stroke="#2e2e2e" stroke-width="0.15">Shaft</text>
<text x="29.75" y="267.80" font-size="10.47" text-anchor="middle" textLength="45.77" lengthAdjust="spacingAndGlyphs" stroke="#2e2e2e" stroke-width="0.15">Diameter</text>
<text x="30.00" y="280.00" font-size="10.8" text-anchor="middle" textLength="33.50" lengthAdjust="spacingAndGlyphs" stroke="#2e2e2e" stroke-width="0.15">( mm )</text>
<text x="119.15" y="267.75" font-size="9.35" text-anchor="middle" textLength="33.64" lengthAdjust="spacingAndGlyphs" stroke="#2e2e2e" stroke-width="0.15">现型号</text>
<text x="119.00" y="279.80" font-size="11.17" text-anchor="middle" textLength="69.56" lengthAdjust="spacingAndGlyphs" stroke="#2e2e2e" stroke-width="0.15">Current Code</text>
<text x="231.00" y="268.68" font-size="10.22" text-anchor="middle" textLength="34.22" lengthAdjust="spacingAndGlyphs" stroke="#2e2e2e" stroke-width="0.15">原型号</text>
<text x="231.20" y="280.40" font-size="10.89" text-anchor="middle" textLength="71.93" lengthAdjust="spacingAndGlyphs" stroke="#2e2e2e" stroke-width="0.15">Original Code</text>
<text x="400.70" y="261.30" font-size="11" text-anchor="middle" textLength="18.14" lengthAdjust="spacingAndGlyphs" stroke="#2e2e2e" stroke-width="0.15">Fw</text>
<text x="448.70" y="261.30" font-size="11" text-anchor="middle" textLength="18.14" lengthAdjust="spacingAndGlyphs" stroke="#2e2e2e" stroke-width="0.15">Ew</text>
<text x="494.50" y="261.30" font-size="11" text-anchor="middle" textLength="16.54" lengthAdjust="spacingAndGlyphs" stroke="#2e2e2e" stroke-width="0.15">Bc</text>
<text x="562.25" y="256.77" font-size="9.14" text-anchor="middle" textLength="11.41" lengthAdjust="spacingAndGlyphs" stroke="#2e2e2e" stroke-width="0.15">动</text>
<text x="562.40" y="266.00" font-size="11" text-anchor="middle" textLength="45.94" lengthAdjust="spacingAndGlyphs" stroke="#2e2e2e" stroke-width="0.15">Dynamic</text>
<text x="637.50" y="256.77" font-size="9.14" text-anchor="middle" textLength="11.91" lengthAdjust="spacingAndGlyphs" stroke="#2e2e2e" stroke-width="0.15">静</text>
<text x="637.20" y="266.00" font-size="11" text-anchor="middle" textLength="29.34" lengthAdjust="spacingAndGlyphs" stroke="#2e2e2e" stroke-width="0.15">Static</text>
<text x="732.80" y="257.08" font-size="9.03" text-anchor="middle" textLength="33.90" lengthAdjust="spacingAndGlyphs" stroke="#2e2e2e" stroke-width="0.15">油润滑</text>
<text x="732.10" y="268.30" font-size="10" text-anchor="middle" textLength="15.20" lengthAdjust="spacingAndGlyphs" stroke="#2e2e2e" stroke-width="0.15">Oil</text>
<text x="333.05" y="285.60" font-size="12.5" text-anchor="middle" textLength="8.40" lengthAdjust="spacingAndGlyphs" stroke="#2e2e2e" stroke-width="0.15">g</text>
<text x="441.30" y="285.00" font-size="11.5" text-anchor="middle" textLength="21.50" lengthAdjust="spacingAndGlyphs" stroke="#2e2e2e" stroke-width="0.15">mm</text>
<text x="598.40" y="286.40" font-size="11" text-anchor="middle" stroke="#2e2e2e" stroke-width="0.15">N</text>
<text x="733.20" y="286.80" font-size="11.5" text-anchor="middle" textLength="24.00" lengthAdjust="spacingAndGlyphs" stroke="#2e2e2e" stroke-width="0.15">rpm</text>
<text x="67.10" y="306.30" font-size="11.35" stroke="#2e2e2e" stroke-width="0.15">K20X24X10</text>
<text x="182.40" y="306.30" font-size="11.35" stroke="#2e2e2e" stroke-width="0.15">29241/20</text>
<text x="330.30" y="306.80" font-size="11.35" text-anchor="middle" stroke="#2e2e2e" stroke-width="0.15">6.5</text>
<text x="397.20" y="306.70" font-size="11.35" text-anchor="middle" stroke="#2e2e2e" stroke-width="0.15">20</text>
<text x="446.80" y="306.70" font-size="11.35" text-anchor="middle" stroke="#2e2e2e" stroke-width="0.15">24</text>
<text x="496.80" y="306.70" font-size="11.35" text-anchor="middle" stroke="#2e2e2e" stroke-width="0.15">10</text>
<text x="559.80" y="308.10" font-size="11.35" text-anchor="middle" stroke="#2e2e2e" stroke-width="0.15">8700</text>
<text x="639.70" y="306.50" font-size="11.35" text-anchor="middle" stroke="#2e2e2e" stroke-width="0.15">12100</text>
<text x="733.30" y="306.90" font-size="11.35" text-anchor="middle" stroke="#2e2e2e" stroke-width="0.15">19000</text>
<text x="67.10" y="324.66" font-size="11.35" stroke="#2e2e2e" stroke-width="0.15">K20X24X12</text>
<text x="330.30" y="325.16" font-size="11.35" text-anchor="middle" stroke="#2e2e2e" stroke-width="0.15">8</text>
<text x="397.20" y="325.06" font-size="11.35" text-anchor="middle" stroke="#2e2e2e" stroke-width="0.15">20</text>
<text x="446.80" y="325.06" font-size="11.35" text-anchor="middle" stroke="#2e2e2e" stroke-width="0.15">24</text>
<text x="496.80" y="325.06" font-size="11.35" text-anchor="middle" stroke="#2e2e2e" stroke-width="0.15">12</text>
<text x="559.80" y="326.46" font-size="11.35" text-anchor="middle" stroke="#2e2e2e" stroke-width="0.15">9600</text>
<text x="639.70" y="324.86" font-size="11.35" text-anchor="middle" stroke="#2e2e2e" stroke-width="0.15">13800</text>
<text x="733.30" y="325.26" font-size="11.35" text-anchor="middle" stroke="#2e2e2e" stroke-width="0.15">19000</text>
<text x="67.10" y="343.02" font-size="11.35" stroke="#2e2e2e" stroke-width="0.15">K20X24X13</text>
<text x="182.40" y="343.02" font-size="11.35" stroke="#2e2e2e" stroke-width="0.15">39241/20</text>
<text x="330.30" y="343.52" font-size="11.35" text-anchor="middle" stroke="#2e2e2e" stroke-width="0.15">8.9</text>
<text x="397.20" y="343.42" font-size="11.35" text-anchor="middle" stroke="#2e2e2e" stroke-width="0.15">20</text>
<text x="446.80" y="343.42" font-size="11.35" text-anchor="middle" stroke="#2e2e2e" stroke-width="0.15">24</text>
<text x="496.80" y="343.42" font-size="11.35" text-anchor="middle" stroke="#2e2e2e" stroke-width="0.15">13</text>
<text x="559.80" y="344.82" font-size="11.35" text-anchor="middle" stroke="#2e2e2e" stroke-width="0.15">9600</text>
<text x="639.70" y="343.22" font-size="11.35" text-anchor="middle" stroke="#2e2e2e" stroke-width="0.15">13800</text>
<text x="733.30" y="343.62" font-size="11.35" text-anchor="middle" stroke="#2e2e2e" stroke-width="0.15">19000</text>
<text x="67.10" y="361.38" font-size="11.35" stroke="#2e2e2e" stroke-width="0.15">K20X24X17</text>
<text x="182.40" y="361.38" font-size="11.35" stroke="#2e2e2e" stroke-width="0.15">59241/20</text>
<text x="330.30" y="361.88" font-size="11.35" text-anchor="middle" stroke="#2e2e2e" stroke-width="0.15">11.2</text>
<text x="397.20" y="361.78" font-size="11.35" text-anchor="middle" stroke="#2e2e2e" stroke-width="0.15">20</text>
<text x="446.80" y="361.78" font-size="11.35" text-anchor="middle" stroke="#2e2e2e" stroke-width="0.15">24</text>
<text x="496.80" y="361.78" font-size="11.35" text-anchor="middle" stroke="#2e2e2e" stroke-width="0.15">17</text>
<text x="559.80" y="363.18" font-size="11.35" text-anchor="middle" stroke="#2e2e2e" stroke-width="0.15">12400</text>
<text x="639.70" y="361.58" font-size="11.35" text-anchor="middle" stroke="#2e2e2e" stroke-width="0.15">20000</text>
<text x="733.30" y="361.98" font-size="11.35" text-anchor="middle" stroke="#2e2e2e" stroke-width="0.15">19000</text>
<text x="67.10" y="379.74" font-size="11.35" stroke="#2e2e2e" stroke-width="0.15">K20X26X12</text>
<text x="182.40" y="379.74" font-size="11.35" stroke="#2e2e2e" stroke-width="0.15">19243/20</text>
<text x="330.30" y="380.24" font-size="11.35" text-anchor="middle" stroke="#2e2e2e" stroke-width="0.15">13.2</text>
<text x="397.20" y="380.14" font-size="11.35" text-anchor="middle" stroke="#2e2e2e" stroke-width="0.15">20</text>
<text x="446.80" y="380.14" font-size="11.35" text-anchor="middle" stroke="#2e2e2e" stroke-width="0.15">26</text>
<text x="496.80" y="380.14" font-size="11.35" text-anchor="middle" stroke="#2e2e2e" stroke-width="0.15">12</text>
<text x="559.80" y="381.54" font-size="11.35" text-anchor="middle" stroke="#2e2e2e" stroke-width="0.15">13100</text>
<text x="639.70" y="379.94" font-size="11.35" text-anchor="middle" stroke="#2e2e2e" stroke-width="0.15">15700</text>
<text x="733.30" y="380.34" font-size="11.35" text-anchor="middle" stroke="#2e2e2e" stroke-width="0.15">19000</text>
<text x="67.10" y="398.10" font-size="11.35" stroke="#2e2e2e" stroke-width="0.15">K20X26X16</text>
<text x="182.40" y="398.10" font-size="11.35" stroke="#2e2e2e" stroke-width="0.15">K9249/20</text>
<text x="330.30" y="398.60" font-size="11.35" text-anchor="middle" stroke="#2e2e2e" stroke-width="0.15">17.5</text>
<text x="397.20" y="398.50" font-size="11.35" text-anchor="middle" stroke="#2e2e2e" stroke-width="0.15">20</text>
<text x="446.80" y="398.50" font-size="11.35" text-anchor="middle" stroke="#2e2e2e" stroke-width="0.15">26</text>
<text x="496.80" y="398.50" font-size="11.35" text-anchor="middle" stroke="#2e2e2e" stroke-width="0.15">16</text>
<text x="559.80" y="399.90" font-size="11.35" text-anchor="middle" stroke="#2e2e2e" stroke-width="0.15">18000</text>
<text x="639.70" y="398.30" font-size="11.35" text-anchor="middle" stroke="#2e2e2e" stroke-width="0.15">25000</text>
<text x="733.30" y="398.70" font-size="11.35" text-anchor="middle" stroke="#2e2e2e" stroke-width="0.15">18500</text>
<text x="67.10" y="416.46" font-size="11.35" stroke="#2e2e2e" stroke-width="0.15">K20X26X17</text>
<text x="182.40" y="416.46" font-size="11.35" stroke="#2e2e2e" stroke-width="0.15">39243/20</text>
<text x="330.30" y="416.96" font-size="11.35" text-anchor="middle" stroke="#2e2e2e" stroke-width="0.15">18.2</text>
<text x="397.20" y="416.86" font-size="11.35" text-anchor="middle" stroke="#2e2e2e" stroke-width="0.15">20</text>
<text x="446.80" y="416.86" font-size="11.35" text-anchor="middle" stroke="#2e2e2e" stroke-width="0.15">26</text>
<text x="496.80" y="416.86" font-size="11.35" text-anchor="middle" stroke="#2e2e2e" stroke-width="0.15">17</text>
<text x="559.80" y="418.26" font-size="11.35" text-anchor="middle" stroke="#2e2e2e" stroke-width="0.15">18700</text>
<text x="639.70" y="416.66" font-size="11.35" text-anchor="middle" stroke="#2e2e2e" stroke-width="0.15">25500</text>
<text x="733.30" y="417.06" font-size="11.35" text-anchor="middle" stroke="#2e2e2e" stroke-width="0.15">19000</text>
<text x="67.10" y="434.82" font-size="11.35" stroke="#2e2e2e" stroke-width="0.15">K20X26X20</text>
<text x="182.40" y="434.82" font-size="11.35" stroke="#2e2e2e" stroke-width="0.15">49243/20</text>
<text x="330.30" y="435.32" font-size="11.35" text-anchor="middle" stroke="#2e2e2e" stroke-width="0.15">22</text>
<text x="397.20" y="435.22" font-size="11.35" text-anchor="middle" stroke="#2e2e2e" stroke-width="0.15">20</text>
<text x="446.80" y="435.22" font-size="11.35" text-anchor="middle" stroke="#2e2e2e" stroke-width="0.15">26</text>
<text x="496.80" y="435.22" font-size="11.35" text-anchor="middle" stroke="#2e2e2e" stroke-width="0.15">20</text>
<text x="559.80" y="436.62" font-size="11.35" text-anchor="middle" stroke="#2e2e2e" stroke-width="0.15">20600</text>
<text x="639.70" y="435.02" font-size="11.35" text-anchor="middle" stroke="#2e2e2e" stroke-width="0.15">28500</text>
<text x="733.30" y="435.42" font-size="11.35" text-anchor="middle" stroke="#2e2e2e" stroke-width="0.15">19000</text>
<text x="67.10" y="453.18" font-size="11.35" stroke="#2e2e2e" stroke-width="0.15">K20X28X20</text>
<text x="182.40" y="453.18" font-size="11.35" stroke="#2e2e2e" stroke-width="0.15">19243520</text>
<text x="330.30" y="453.68" font-size="11.35" text-anchor="middle" stroke="#2e2e2e" stroke-width="0.15">26.8</text>
<text x="397.20" y="453.58" font-size="11.35" text-anchor="middle" stroke="#2e2e2e" stroke-width="0.15">20</text>
<text x="446.80" y="453.58" font-size="11.35" text-anchor="middle" stroke="#2e2e2e" stroke-width="0.15">28</text>
<text x="496.80" y="453.58" font-size="11.35" text-anchor="middle" stroke="#2e2e2e" stroke-width="0.15">20</text>
<text x="559.80" y="454.98" font-size="11.35" text-anchor="middle" stroke="#2e2e2e" stroke-width="0.15">23400</text>
<text x="639.70" y="453.38" font-size="11.35" text-anchor="middle" stroke="#2e2e2e" stroke-width="0.15">28000</text>
<text x="733.30" y="453.78" font-size="11.35" text-anchor="middle" stroke="#2e2e2e" stroke-width="0.15">18000</text>
<text x="67.10" y="471.54" font-size="11.35" stroke="#2e2e2e" stroke-width="0.15">K20X28X25</text>
<text x="182.40" y="471.54" font-size="11.35" stroke="#2e2e2e" stroke-width="0.15">29245/20</text>
<text x="330.30" y="472.04" font-size="11.35" text-anchor="middle" stroke="#2e2e2e" stroke-width="0.15">36.2</text>
<text x="397.20" y="471.94" font-size="11.35" text-anchor="middle" stroke="#2e2e2e" stroke-width="0.15">20</text>
<text x="446.80" y="471.94" font-size="11.35" text-anchor="middle" stroke="#2e2e2e" stroke-width="0.15">28</text>
<text x="496.80" y="471.94" font-size="11.35" text-anchor="middle" stroke="#2e2e2e" stroke-width="0.15">25</text>
<text x="559.80" y="473.34" font-size="11.35" text-anchor="middle" stroke="#2e2e2e" stroke-width="0.15">30000</text>
<text x="639.70" y="471.74" font-size="11.35" text-anchor="middle" stroke="#2e2e2e" stroke-width="0.15">28500</text>
<text x="733.30" y="472.14" font-size="11.35" text-anchor="middle" stroke="#2e2e2e" stroke-width="0.15">18000</text>
<text x="67.10" y="489.90" font-size="11.35" stroke="#2e2e2e" stroke-width="0.15">K20X30X30</text>
<text x="182.40" y="489.90" font-size="11.35" stroke="#2e2e2e" stroke-width="0.15">39245/20</text>
<text x="330.30" y="490.40" font-size="11.35" text-anchor="middle" stroke="#2e2e2e" stroke-width="0.15">56</text>
<text x="397.20" y="490.30" font-size="11.35" text-anchor="middle" stroke="#2e2e2e" stroke-width="0.15">20</text>
<text x="446.80" y="490.30" font-size="11.35" text-anchor="middle" stroke="#2e2e2e" stroke-width="0.15">30</text>
<text x="496.80" y="490.30" font-size="11.35" text-anchor="middle" stroke="#2e2e2e" stroke-width="0.15">30</text>
<text x="559.80" y="491.70" font-size="11.35" text-anchor="middle" stroke="#2e2e2e" stroke-width="0.15">35000</text>
<text x="639.70" y="490.10" font-size="11.35" text-anchor="middle" stroke="#2e2e2e" stroke-width="0.15">41000</text>
<text x="733.30" y="490.50" font-size="11.35" text-anchor="middle" stroke="#2e2e2e" stroke-width="0.15">18000</text>
<text x="67.10" y="508.26" font-size="11.35" stroke="#2e2e2e" stroke-width="0.15">K21X25X13</text>
<text x="330.30" y="508.76" font-size="11.35" text-anchor="middle" stroke="#2e2e2e" stroke-width="0.15">9</text>
<text x="397.20" y="508.66" font-size="11.35" text-anchor="middle" stroke="#2e2e2e" stroke-width="0.15">21</text>
<text x="446.80" y="508.66" font-size="11.35" text-anchor="middle" stroke="#2e2e2e" stroke-width="0.15">25</text>
<text x="496.80" y="508.66" font-size="11.35" text-anchor="middle" stroke="#2e2e2e" stroke-width="0.15">13</text>
<text x="559.80" y="510.06" font-size="11.35" text-anchor="middle" stroke="#2e2e2e" stroke-width="0.15">9600</text>
<text x="639.70" y="508.46" font-size="11.35" text-anchor="middle" stroke="#2e2e2e" stroke-width="0.15">14500</text>
<text x="733.30" y="508.86" font-size="11.35" text-anchor="middle" stroke="#2e2e2e" stroke-width="0.15">19000</text>
<text x="67.10" y="526.62" font-size="11.35" stroke="#2e2e2e" stroke-width="0.15">K21X25X17</text>
<text x="330.30" y="527.12" font-size="11.35" text-anchor="middle" stroke="#2e2e2e" stroke-width="0.15">12</text>
<text x="397.20" y="527.02" font-size="11.35" text-anchor="middle" stroke="#2e2e2e" stroke-width="0.15">21</text>
<text x="446.80" y="527.02" font-size="11.35" text-anchor="middle" stroke="#2e2e2e" stroke-width="0.15">25</text>
<text x="496.80" y="527.02" font-size="11.35" text-anchor="middle" stroke="#2e2e2e" stroke-width="0.15">17</text>
<text x="559.80" y="528.42" font-size="11.35" text-anchor="middle" stroke="#2e2e2e" stroke-width="0.15">12800</text>
<text x="639.70" y="526.82" font-size="11.35" text-anchor="middle" stroke="#2e2e2e" stroke-width="0.15">21000</text>
<text x="733.30" y="527.22" font-size="11.35" text-anchor="middle" stroke="#2e2e2e" stroke-width="0.15">19000</text>
<text x="67.10" y="544.98" font-size="11.35" stroke="#2e2e2e" stroke-width="0.15">K22X26X10</text>
<text x="182.40" y="544.98" font-size="11.35" stroke="#2e2e2e" stroke-width="0.15">29241/22</text>
<text x="330.30" y="545.48" font-size="11.35" text-anchor="middle" stroke="#2e2e2e" stroke-width="0.15">7.1</text>
<text x="397.20" y="545.38" font-size="11.35" text-anchor="middle" stroke="#2e2e2e" stroke-width="0.15">22</text>
<text x="446.80" y="545.38" font-size="11.35" text-anchor="middle" stroke="#2e2e2e" stroke-width="0.15">26</text>
<text x="496.80" y="545.38" font-size="11.35" text-anchor="middle" stroke="#2e2e2e" stroke-width="0.15">10</text>
<text x="559.80" y="546.78" font-size="11.35" text-anchor="middle" stroke="#2e2e2e" stroke-width="0.15">8700</text>
<text x="639.70" y="545.18" font-size="11.35" text-anchor="middle" stroke="#2e2e2e" stroke-width="0.15">12900</text>
<text x="733.30" y="545.58" font-size="11.35" text-anchor="middle" stroke="#2e2e2e" stroke-width="0.15">18000</text>
<text x="67.10" y="563.34" font-size="11.35" stroke="#2e2e2e" stroke-width="0.15">K22X26X13</text>
<text x="182.40" y="563.34" font-size="11.35" stroke="#2e2e2e" stroke-width="0.15">39241/22</text>
<text x="330.30" y="563.84" font-size="11.35" text-anchor="middle" stroke="#2e2e2e" stroke-width="0.15">9.4</text>
<text x="397.20" y="563.74" font-size="11.35" text-anchor="middle" stroke="#2e2e2e" stroke-width="0.15">22</text>
<text x="446.80" y="563.74" font-size="11.35" text-anchor="middle" stroke="#2e2e2e" stroke-width="0.15">26</text>
<text x="496.80" y="563.74" font-size="11.35" text-anchor="middle" stroke="#2e2e2e" stroke-width="0.15">13</text>
<text x="559.80" y="565.14" font-size="11.35" text-anchor="middle" stroke="#2e2e2e" stroke-width="0.15">10000</text>
<text x="639.70" y="563.54" font-size="11.35" text-anchor="middle" stroke="#2e2e2e" stroke-width="0.15">15400</text>
<text x="733.30" y="563.94" font-size="11.35" text-anchor="middle" stroke="#2e2e2e" stroke-width="0.15">18000</text>
<text x="67.10" y="581.70" font-size="11.35" stroke="#2e2e2e" stroke-width="0.15">K22X26X17</text>
<text x="182.40" y="581.70" font-size="11.35" stroke="#2e2e2e" stroke-width="0.15">59241/22</text>
<text x="330.30" y="582.20" font-size="11.35" text-anchor="middle" stroke="#2e2e2e" stroke-width="0.15">12.1</text>
<text x="397.20" y="582.10" font-size="11.35" text-anchor="middle" stroke="#2e2e2e" stroke-width="0.15">22</text>
<text x="446.80" y="582.10" font-size="11.35" text-anchor="middle" stroke="#2e2e2e" stroke-width="0.15">26</text>
<text x="496.80" y="582.10" font-size="11.35" text-anchor="middle" stroke="#2e2e2e" stroke-width="0.15">17</text>
<text x="559.80" y="583.50" font-size="11.35" text-anchor="middle" stroke="#2e2e2e" stroke-width="0.15">13100</text>
<text x="639.70" y="581.90" font-size="11.35" text-anchor="middle" stroke="#2e2e2e" stroke-width="0.15">22100</text>
<text x="733.30" y="582.30" font-size="11.35" text-anchor="middle" stroke="#2e2e2e" stroke-width="0.15">18000</text>
<text x="67.10" y="600.06" font-size="11.35" stroke="#2e2e2e" stroke-width="0.15">K22X27X13</text>
<text x="182.40" y="600.06" font-size="11.35" stroke="#2e2e2e" stroke-width="0.15">29242/22</text>
<text x="330.30" y="600.56" font-size="11.35" text-anchor="middle" stroke="#2e2e2e" stroke-width="0.15">10.8</text>
<text x="397.20" y="600.46" font-size="11.35" text-anchor="middle" stroke="#2e2e2e" stroke-width="0.15">22</text>
<text x="446.80" y="600.46" font-size="11.35" text-anchor="middle" stroke="#2e2e2e" stroke-width="0.15">27</text>
<text x="496.80" y="600.46" font-size="11.35" text-anchor="middle" stroke="#2e2e2e" stroke-width="0.15">13</text>
<text x="559.80" y="601.86" font-size="11.35" text-anchor="middle" stroke="#2e2e2e" stroke-width="0.15">14000</text>
<text x="639.70" y="600.26" font-size="11.35" text-anchor="middle" stroke="#2e2e2e" stroke-width="0.15">23000</text>
<text x="733.30" y="600.66" font-size="11.35" text-anchor="middle" stroke="#2e2e2e" stroke-width="0.15">18000</text>
<text x="67.10" y="618.42" font-size="11.35" stroke="#2e2e2e" stroke-width="0.15">K22X28X17</text>
<text x="182.40" y="618.42" font-size="11.35" stroke="#2e2e2e" stroke-width="0.15">39243/22</text>
<text x="330.30" y="618.92" font-size="11.35" text-anchor="middle" stroke="#2e2e2e" stroke-width="0.15">19.7</text>
<text x="397.20" y="618.82" font-size="11.35" text-anchor="middle" stroke="#2e2e2e" stroke-width="0.15">22</text>
<text x="446.80" y="618.82" font-size="11.35" text-anchor="middle" stroke="#2e2e2e" stroke-width="0.15">28</text>
<text x="496.80" y="618.82" font-size="11.35" text-anchor="middle" stroke="#2e2e2e" stroke-width="0.15">17</text>
<text x="559.80" y="620.22" font-size="11.35" text-anchor="middle" stroke="#2e2e2e" stroke-width="0.15">19000</text>
<text x="639.70" y="618.62" font-size="11.35" text-anchor="middle" stroke="#2e2e2e" stroke-width="0.15">26500</text>
<text x="733.30" y="619.02" font-size="11.35" text-anchor="middle" stroke="#2e2e2e" stroke-width="0.15">18000</text>
<text x="67.10" y="636.78" font-size="11.35" stroke="#2e2e2e" stroke-width="0.15">K22X28X23</text>
<text x="182.40" y="636.78" font-size="11.35" stroke="#2e2e2e" stroke-width="0.15">59243/22</text>
<text x="330.30" y="637.28" font-size="11.35" text-anchor="middle" stroke="#2e2e2e" stroke-width="0.15">26</text>
<text x="397.20" y="637.18" font-size="11.35" text-anchor="middle" stroke="#2e2e2e" stroke-width="0.15">22</text>
<text x="446.80" y="637.18" font-size="11.35" text-anchor="middle" stroke="#2e2e2e" stroke-width="0.15">28</text>
<text x="496.80" y="637.18" font-size="11.35" text-anchor="middle" stroke="#2e2e2e" stroke-width="0.15">23</text>
<text x="559.80" y="638.58" font-size="11.35" text-anchor="middle" stroke="#2e2e2e" stroke-width="0.15">20000</text>
<text x="639.70" y="636.98" font-size="11.35" text-anchor="middle" stroke="#2e2e2e" stroke-width="0.15">27000</text>
<text x="733.30" y="637.38" font-size="11.35" text-anchor="middle" stroke="#2e2e2e" stroke-width="0.15">19000</text>
<text x="67.10" y="655.14" font-size="11.35" stroke="#2e2e2e" stroke-width="0.15">K22X29X16</text>
<text x="182.40" y="655.14" font-size="11.35" stroke="#2e2e2e" stroke-width="0.15">19244/22</text>
<text x="330.30" y="655.64" font-size="11.35" text-anchor="middle" stroke="#2e2e2e" stroke-width="0.15">22.2</text>
<text x="397.20" y="655.54" font-size="11.35" text-anchor="middle" stroke="#2e2e2e" stroke-width="0.15">22</text>
<text x="446.80" y="655.54" font-size="11.35" text-anchor="middle" stroke="#2e2e2e" stroke-width="0.15">29</text>
<text x="496.80" y="655.54" font-size="11.35" text-anchor="middle" stroke="#2e2e2e" stroke-width="0.15">16</text>
<text x="559.80" y="656.94" font-size="11.35" text-anchor="middle" stroke="#2e2e2e" stroke-width="0.15">19500</text>
<text x="639.70" y="655.34" font-size="11.35" text-anchor="middle" stroke="#2e2e2e" stroke-width="0.15">25000</text>
<text x="733.30" y="655.74" font-size="11.35" text-anchor="middle" stroke="#2e2e2e" stroke-width="0.15">17000</text>
<text x="67.10" y="673.50" font-size="11.35" stroke="#2e2e2e" stroke-width="0.15">K22X30X15TN</text>
<text x="330.30" y="674.00" font-size="11.35" text-anchor="middle" stroke="#2e2e2e" stroke-width="0.15">14.4</text>
<text x="397.20" y="673.90" font-size="11.35" text-anchor="middle" stroke="#2e2e2e" stroke-width="0.15">22</text>
<text x="446.80" y="673.90" font-size="11.35" text-anchor="middle" stroke="#2e2e2e" stroke-width="0.15">30</text>
<text x="496.80" y="673.90" font-size="11.35" text-anchor="middle" stroke="#2e2e2e" stroke-width="0.15">15</text>
<text x="559.80" y="675.30" font-size="11.35" text-anchor="middle" stroke="#2e2e2e" stroke-width="0.15">19600</text>
<text x="639.70" y="673.70" font-size="11.35" text-anchor="middle" stroke="#2e2e2e" stroke-width="0.15">22900</text>
<text x="733.30" y="674.10" font-size="11.35" text-anchor="middle" stroke="#2e2e2e" stroke-width="0.15">17000</text>
<text x="67.10" y="691.86" font-size="11.35" stroke="#2e2e2e" stroke-width="0.15">K22X30X20</text>
<text x="182.40" y="691.86" font-size="11.35" stroke="#2e2e2e" stroke-width="0.15">19245/22</text>
<text x="330.30" y="692.36" font-size="11.35" text-anchor="middle" stroke="#2e2e2e" stroke-width="0.15">28</text>
<text x="397.20" y="692.26" font-size="11.35" text-anchor="middle" stroke="#2e2e2e" stroke-width="0.15">22</text>
<text x="446.80" y="692.26" font-size="11.35" text-anchor="middle" stroke="#2e2e2e" stroke-width="0.15">30</text>
<text x="496.80" y="692.26" font-size="11.35" text-anchor="middle" stroke="#2e2e2e" stroke-width="0.15">20</text>
<text x="559.80" y="693.66" font-size="11.35" text-anchor="middle" stroke="#2e2e2e" stroke-width="0.15">21000</text>
<text x="639.70" y="692.06" font-size="11.35" text-anchor="middle" stroke="#2e2e2e" stroke-width="0.15">23500</text>
<text x="733.30" y="692.46" font-size="11.35" text-anchor="middle" stroke="#2e2e2e" stroke-width="0.15">18900</text>
<text x="67.10" y="710.22" font-size="11.35" stroke="#2e2e2e" stroke-width="0.15">K22X32X24</text>
<text x="330.30" y="710.72" font-size="11.35" text-anchor="middle" stroke="#2e2e2e" stroke-width="0.15">43.4</text>
<text x="397.20" y="710.62" font-size="11.35" text-anchor="middle" stroke="#2e2e2e" stroke-width="0.15">22</text>
<text x="446.80" y="710.62" font-size="11.35" text-anchor="middle" stroke="#2e2e2e" stroke-width="0.15">32</text>
<text x="496.80" y="710.62" font-size="11.35" text-anchor="middle" stroke="#2e2e2e" stroke-width="0.15">24</text>
<text x="559.80" y="712.02" font-size="11.35" text-anchor="middle" stroke="#2e2e2e" stroke-width="0.15">33500</text>
<text x="639.70" y="710.42" font-size="11.35" text-anchor="middle" stroke="#2e2e2e" stroke-width="0.15">39500</text>
<text x="733.30" y="710.82" font-size="11.35" text-anchor="middle" stroke="#2e2e2e" stroke-width="0.15">16000</text>
<text x="67.10" y="728.58" font-size="11.35" stroke="#2e2e2e" stroke-width="0.15">K23X35X16TN</text>
<text x="330.30" y="729.08" font-size="11.35" text-anchor="middle" stroke="#2e2e2e" stroke-width="0.15">30</text>
<text x="397.20" y="728.98" font-size="11.35" text-anchor="middle" stroke="#2e2e2e" stroke-width="0.15">23</text>
<text x="446.80" y="728.98" font-size="11.35" text-anchor="middle" stroke="#2e2e2e" stroke-width="0.15">35</text>
<text x="496.80" y="728.98" font-size="11.35" text-anchor="middle" stroke="#2e2e2e" stroke-width="0.15">16</text>
<text x="559.80" y="730.38" font-size="11.35" text-anchor="middle" stroke="#2e2e2e" stroke-width="0.15">24000</text>
<text x="639.70" y="728.78" font-size="11.35" text-anchor="middle" stroke="#2e2e2e" stroke-width="0.15">23400</text>
<text x="733.30" y="729.18" font-size="11.35" text-anchor="middle" stroke="#2e2e2e" stroke-width="0.15">15000</text>
<text x="67.10" y="746.94" font-size="11.35" stroke="#2e2e2e" stroke-width="0.15">K24X28X10</text>
<text x="330.30" y="747.44" font-size="11.35" text-anchor="middle" stroke="#2e2e2e" stroke-width="0.15">8.1</text>
<text x="397.20" y="747.34" font-size="11.35" text-anchor="middle" stroke="#2e2e2e" stroke-width="0.15">24</text>
<text x="446.80" y="747.34" font-size="11.35" text-anchor="middle" stroke="#2e2e2e" stroke-width="0.15">28</text>
<text x="496.80" y="747.34" font-size="11.35" text-anchor="middle" stroke="#2e2e2e" stroke-width="0.15">10</text>
<text x="559.80" y="748.74" font-size="11.35" text-anchor="middle" stroke="#2e2e2e" stroke-width="0.15">9400</text>
<text x="639.70" y="747.14" font-size="11.35" text-anchor="middle" stroke="#2e2e2e" stroke-width="0.15">14300</text>
<text x="733.30" y="747.54" font-size="11.35" text-anchor="middle" stroke="#2e2e2e" stroke-width="0.15">17000</text>
<text x="67.10" y="765.30" font-size="11.35" stroke="#2e2e2e" stroke-width="0.15">K24X28X13</text>
<text x="330.30" y="765.80" font-size="11.35" text-anchor="middle" stroke="#2e2e2e" stroke-width="0.15">10.1</text>
<text x="397.20" y="765.70" font-size="11.35" text-anchor="middle" stroke="#2e2e2e" stroke-width="0.15">24</text>
<text x="446.80" y="765.70" font-size="11.35" text-anchor="middle" stroke="#2e2e2e" stroke-width="0.15">28</text>
<text x="496.80" y="765.70" font-size="11.35" text-anchor="middle" stroke="#2e2e2e" stroke-width="0.15">13</text>
<text x="559.80" y="767.10" font-size="11.35" text-anchor="middle" stroke="#2e2e2e" stroke-width="0.15">10500</text>
<text x="639.70" y="765.50" font-size="11.35" text-anchor="middle" stroke="#2e2e2e" stroke-width="0.15">17000</text>
<text x="733.30" y="765.90" font-size="11.35" text-anchor="middle" stroke="#2e2e2e" stroke-width="0.15">17000</text>
<text x="67.10" y="783.66" font-size="11.35" stroke="#2e2e2e" stroke-width="0.15">K24X28X17</text>
<text x="182.40" y="783.66" font-size="11.35" stroke="#2e2e2e" stroke-width="0.15">9243/24</text>
<text x="330.30" y="784.16" font-size="11.35" text-anchor="middle" stroke="#2e2e2e" stroke-width="0.15">13.2</text>
<text x="397.20" y="784.06" font-size="11.35" text-anchor="middle" stroke="#2e2e2e" stroke-width="0.15">24</text>
<text x="446.80" y="784.06" font-size="11.35" text-anchor="middle" stroke="#2e2e2e" stroke-width="0.15">28</text>
<text x="496.80" y="784.06" font-size="11.35" text-anchor="middle" stroke="#2e2e2e" stroke-width="0.15">17</text>
<text x="559.80" y="785.46" font-size="11.35" text-anchor="middle" stroke="#2e2e2e" stroke-width="0.15">14000</text>
<text x="639.70" y="783.86" font-size="11.35" text-anchor="middle" stroke="#2e2e2e" stroke-width="0.15">24500</text>
<text x="733.30" y="784.26" font-size="11.35" text-anchor="middle" stroke="#2e2e2e" stroke-width="0.15">17000</text>
<text x="67.10" y="802.02" font-size="11.35" stroke="#2e2e2e" stroke-width="0.15">K24X29X13</text>
<text x="330.30" y="802.52" font-size="11.35" text-anchor="middle" stroke="#2e2e2e" stroke-width="0.15">13.5</text>
<text x="397.20" y="802.42" font-size="11.35" text-anchor="middle" stroke="#2e2e2e" stroke-width="0.15">24</text>
<text x="446.80" y="802.42" font-size="11.35" text-anchor="middle" stroke="#2e2e2e" stroke-width="0.15">29</text>
<text x="496.80" y="802.42" font-size="11.35" text-anchor="middle" stroke="#2e2e2e" stroke-width="0.15">13</text>
<text x="559.80" y="803.82" font-size="11.35" text-anchor="middle" stroke="#2e2e2e" stroke-width="0.15">13100</text>
<text x="639.70" y="802.22" font-size="11.35" text-anchor="middle" stroke="#2e2e2e" stroke-width="0.15">19100</text>
<text x="733.30" y="802.62" font-size="11.35" text-anchor="middle" stroke="#2e2e2e" stroke-width="0.15">16000</text>
<text x="67.10" y="820.38" font-size="11.35" stroke="#2e2e2e" stroke-width="0.15">K24X30X17</text>
<text x="330.30" y="820.88" font-size="11.35" text-anchor="middle" stroke="#2e2e2e" stroke-width="0.15">21.5</text>
<text x="397.20" y="820.78" font-size="11.35" text-anchor="middle" stroke="#2e2e2e" stroke-width="0.15">24</text>
<text x="446.80" y="820.78" font-size="11.35" text-anchor="middle" stroke="#2e2e2e" stroke-width="0.15">30</text>
<text x="496.80" y="820.78" font-size="11.35" text-anchor="middle" stroke="#2e2e2e" stroke-width="0.15">17</text>
<text x="559.80" y="822.18" font-size="11.35" text-anchor="middle" stroke="#2e2e2e" stroke-width="0.15">19000</text>
<text x="639.70" y="820.58" font-size="11.35" text-anchor="middle" stroke="#2e2e2e" stroke-width="0.15">27000</text>
<text x="733.30" y="820.98" font-size="11.35" text-anchor="middle" stroke="#2e2e2e" stroke-width="0.15">16000</text>
<text x="67.10" y="838.74" font-size="11.35" stroke="#2e2e2e" stroke-width="0.15">K24X30X31</text>
<text x="330.30" y="839.24" font-size="11.35" text-anchor="middle" stroke="#2e2e2e" stroke-width="0.15">39.1</text>
<text x="397.20" y="839.14" font-size="11.35" text-anchor="middle" stroke="#2e2e2e" stroke-width="0.15">24</text>
<text x="446.80" y="839.14" font-size="11.35" text-anchor="middle" stroke="#2e2e2e" stroke-width="0.15">30</text>
<text x="496.80" y="839.14" font-size="11.35" text-anchor="middle" stroke="#2e2e2e" stroke-width="0.15">31</text>
<text x="559.80" y="840.54" font-size="11.35" text-anchor="middle" stroke="#2e2e2e" stroke-width="0.15">27000</text>
<text x="639.70" y="838.94" font-size="11.35" text-anchor="middle" stroke="#2e2e2e" stroke-width="0.15">43000</text>
<text x="733.30" y="839.34" font-size="11.35" text-anchor="middle" stroke="#2e2e2e" stroke-width="0.15">16000</text>
<text x="67.10" y="857.10" font-size="11.35" stroke="#2e2e2e" stroke-width="0.15">K25X29X10</text>
<text x="182.40" y="857.10" font-size="11.35" stroke="#2e2e2e" stroke-width="0.15">29241/25</text>
<text x="330.30" y="857.60" font-size="11.35" text-anchor="middle" stroke="#2e2e2e" stroke-width="0.15">8.3</text>
<text x="397.20" y="857.50" font-size="11.35" text-anchor="middle" stroke="#2e2e2e" stroke-width="0.15">25</text>
<text x="446.80" y="857.50" font-size="11.35" text-anchor="middle" stroke="#2e2e2e" stroke-width="0.15">29</text>
<text x="496.80" y="857.50" font-size="11.35" text-anchor="middle" stroke="#2e2e2e" stroke-width="0.15">10</text>
<text x="559.80" y="858.90" font-size="11.35" text-anchor="middle" stroke="#2e2e2e" stroke-width="0.15">9700</text>
<text x="639.70" y="857.30" font-size="11.35" text-anchor="middle" stroke="#2e2e2e" stroke-width="0.15">14900</text>
<text x="733.30" y="857.70" font-size="11.35" text-anchor="middle" stroke="#2e2e2e" stroke-width="0.15">16000</text>
<text x="67.10" y="875.46" font-size="11.35" stroke="#2e2e2e" stroke-width="0.15">K25X29X13</text>
<text x="182.40" y="875.46" font-size="11.35" stroke="#2e2e2e" stroke-width="0.15">39241/25</text>
<text x="330.30" y="875.96" font-size="11.35" text-anchor="middle" stroke="#2e2e2e" stroke-width="0.15">10.4</text>
<text x="397.20" y="875.86" font-size="11.35" text-anchor="middle" stroke="#2e2e2e" stroke-width="0.15">25</text>
<text x="446.80" y="875.86" font-size="11.35" text-anchor="middle" stroke="#2e2e2e" stroke-width="0.15">29</text>
<text x="496.80" y="875.86" font-size="11.35" text-anchor="middle" stroke="#2e2e2e" stroke-width="0.15">13</text>
<text x="559.80" y="877.26" font-size="11.35" text-anchor="middle" stroke="#2e2e2e" stroke-width="0.15">10800</text>
<text x="639.70" y="875.66" font-size="11.35" text-anchor="middle" stroke="#2e2e2e" stroke-width="0.15">17900</text>
<text x="733.30" y="876.06" font-size="11.35" text-anchor="middle" stroke="#2e2e2e" stroke-width="0.15">16000</text>
<text x="67.10" y="893.82" font-size="11.35" stroke="#2e2e2e" stroke-width="0.15">K25X29X17</text>
<text x="182.40" y="893.82" font-size="11.35" stroke="#2e2e2e" stroke-width="0.15">59241/25</text>
<text x="330.30" y="894.32" font-size="11.35" text-anchor="middle" stroke="#2e2e2e" stroke-width="0.15">13.7</text>
<text x="397.20" y="894.22" font-size="11.35" text-anchor="middle" stroke="#2e2e2e" stroke-width="0.15">25</text>
<text x="446.80" y="894.22" font-size="11.35" text-anchor="middle" stroke="#2e2e2e" stroke-width="0.15">29</text>
<text x="496.80" y="894.22" font-size="11.35" text-anchor="middle" stroke="#2e2e2e" stroke-width="0.15">17</text>
<text x="559.80" y="895.62" font-size="11.35" text-anchor="middle" stroke="#2e2e2e" stroke-width="0.15">14500</text>
<text x="639.70" y="894.02" font-size="11.35" text-anchor="middle" stroke="#2e2e2e" stroke-width="0.15">25500</text>
<text x="733.30" y="894.42" font-size="11.35" text-anchor="middle" stroke="#2e2e2e" stroke-width="0.15">16000</text>
<text x="67.10" y="912.18" font-size="11.35" stroke="#2e2e2e" stroke-width="0.15">K25X30X13</text>
<text x="182.40" y="912.18" font-size="11.35" stroke="#2e2e2e" stroke-width="0.15">29242/25</text>
<text x="330.30" y="912.68" font-size="11.35" text-anchor="middle" stroke="#2e2e2e" stroke-width="0.15">12.9</text>
<text x="397.20" y="912.58" font-size="11.35" text-anchor="middle" stroke="#2e2e2e" stroke-width="0.15">25</text>
<text x="446.80" y="912.58" font-size="11.35" text-anchor="middle" stroke="#2e2e2e" stroke-width="0.15">30</text>
<text x="496.80" y="912.58" font-size="11.35" text-anchor="middle" stroke="#2e2e2e" stroke-width="0.15">13</text>
<text x="559.80" y="913.98" font-size="11.35" text-anchor="middle" stroke="#2e2e2e" stroke-width="0.15">14100</text>
<text x="639.70" y="912.38" font-size="11.35" text-anchor="middle" stroke="#2e2e2e" stroke-width="0.15">213000</text>
<text x="733.30" y="912.78" font-size="11.35" text-anchor="middle" stroke="#2e2e2e" stroke-width="0.15">16000</text>
<text x="67.10" y="930.54" font-size="11.35" stroke="#2e2e2e" stroke-width="0.15">K25X30X20</text>
<text x="182.40" y="930.54" font-size="11.35" stroke="#2e2e2e" stroke-width="0.15">59242/25</text>
<text x="330.30" y="931.04" font-size="11.35" text-anchor="middle" stroke="#2e2e2e" stroke-width="0.15">20.5</text>
<text x="397.20" y="930.94" font-size="11.35" text-anchor="middle" stroke="#2e2e2e" stroke-width="0.15">25</text>
<text x="446.80" y="930.94" font-size="11.35" text-anchor="middle" stroke="#2e2e2e" stroke-width="0.15">30</text>
<text x="496.80" y="930.94" font-size="11.35" text-anchor="middle" stroke="#2e2e2e" stroke-width="0.15">20</text>
<text x="559.80" y="932.34" font-size="11.35" text-anchor="middle" stroke="#2e2e2e" stroke-width="0.15">21100</text>
<text x="639.70" y="930.74" font-size="11.35" text-anchor="middle" stroke="#2e2e2e" stroke-width="0.15">28000</text>
<text x="733.30" y="931.14" font-size="11.35" text-anchor="middle" stroke="#2e2e2e" stroke-width="0.15">16000</text>
<text x="67.10" y="948.90" font-size="11.35" stroke="#2e2e2e" stroke-width="0.15">K25X30X25</text>
<text x="330.30" y="949.40" font-size="11.35" text-anchor="middle" stroke="#2e2e2e" stroke-width="0.15">21</text>
<text x="397.20" y="949.30" font-size="11.35" text-anchor="middle" stroke="#2e2e2e" stroke-width="0.15">25</text>
<text x="446.80" y="949.30" font-size="11.35" text-anchor="middle" stroke="#2e2e2e" stroke-width="0.15">30</text>
<text x="496.80" y="949.30" font-size="11.35" text-anchor="middle" stroke="#2e2e2e" stroke-width="0.15">25</text>
<text x="559.80" y="950.70" font-size="11.35" text-anchor="middle" stroke="#2e2e2e" stroke-width="0.15">21700</text>
<text x="639.70" y="949.10" font-size="11.35" text-anchor="middle" stroke="#2e2e2e" stroke-width="0.15">40400</text>
<text x="733.30" y="949.50" font-size="11.35" text-anchor="middle" stroke="#2e2e2e" stroke-width="0.15">15000</text>
<text x="67.10" y="967.26" font-size="11.35" stroke="#2e2e2e" stroke-width="0.15">K25X30X26</text>
<text x="182.40" y="967.26" font-size="11.35" stroke="#2e2e2e" stroke-width="0.15">52.436</text>
<text x="330.30" y="967.76" font-size="11.35" text-anchor="middle" stroke="#2e2e2e" stroke-width="0.15">21.6</text>
<text x="397.20" y="967.66" font-size="11.35" text-anchor="middle" stroke="#2e2e2e" stroke-width="0.15">25</text>
<text x="446.80" y="967.66" font-size="11.35" text-anchor="middle" stroke="#2e2e2e" stroke-width="0.15">30</text>
<text x="496.80" y="967.66" font-size="11.35" text-anchor="middle" stroke="#2e2e2e" stroke-width="0.15">26</text>
<text x="559.80" y="969.06" font-size="11.35" text-anchor="middle" stroke="#2e2e2e" stroke-width="0.15">20100</text>
<text x="639.70" y="967.46" font-size="11.35" text-anchor="middle" stroke="#2e2e2e" stroke-width="0.15">26500</text>
<text x="733.30" y="967.86" font-size="11.35" text-anchor="middle" stroke="#2e2e2e" stroke-width="0.15">15000</text>
<text x="67.10" y="985.62" font-size="11.35" stroke="#2e2e2e" stroke-width="0.15">K25X31X17</text>
<text x="182.40" y="985.62" font-size="11.35" stroke="#2e2e2e" stroke-width="0.15">39243/25</text>
<text x="330.30" y="986.12" font-size="11.35" text-anchor="middle" stroke="#2e2e2e" stroke-width="0.15">21.8</text>
<text x="397.20" y="986.02" font-size="11.35" text-anchor="middle" stroke="#2e2e2e" stroke-width="0.15">25</text>
<text x="446.80" y="986.02" font-size="11.35" text-anchor="middle" stroke="#2e2e2e" stroke-width="0.15">31</text>
<text x="496.80" y="986.02" font-size="11.35" text-anchor="middle" stroke="#2e2e2e" stroke-width="0.15">17</text>
<text x="559.80" y="987.42" font-size="11.35" text-anchor="middle" stroke="#2e2e2e" stroke-width="0.15">19000</text>
<text x="639.70" y="985.82" font-size="11.35" text-anchor="middle" stroke="#2e2e2e" stroke-width="0.15">28000</text>
<text x="733.30" y="986.22" font-size="11.35" text-anchor="middle" stroke="#2e2e2e" stroke-width="0.15">16000</text>
<text x="67.10" y="1003.98" font-size="11.35" stroke="#2e2e2e" stroke-width="0.15">K25X31X21</text>
<text x="182.40" y="1003.98" font-size="11.35" stroke="#2e2e2e" stroke-width="0.15">39243/25</text>
<text x="330.30" y="1004.48" font-size="11.35" text-anchor="middle" stroke="#2e2e2e" stroke-width="0.15">26.2</text>
<text x="397.20" y="1004.38" font-size="11.35" text-anchor="middle" stroke="#2e2e2e" stroke-width="0.15">25</text>
<text x="446.80" y="1004.38" font-size="11.35" text-anchor="middle" stroke="#2e2e2e" stroke-width="0.15">31</text>
<text x="496.80" y="1004.38" font-size="11.35" text-anchor="middle" stroke="#2e2e2e" stroke-width="0.15">21</text>
<text x="559.80" y="1005.78" font-size="11.35" text-anchor="middle" stroke="#2e2e2e" stroke-width="0.15">24100</text>
<text x="639.70" y="1004.18" font-size="11.35" text-anchor="middle" stroke="#2e2e2e" stroke-width="0.15">37500</text>
<text x="733.30" y="1004.58" font-size="11.35" text-anchor="middle" stroke="#2e2e2e" stroke-width="0.15">16000</text>
<text x="28.00" y="385.00" font-size="11.35" text-anchor="middle" stroke="#2e2e2e" stroke-width="0.15">20</text>
<text x="29.50" y="516.60" font-size="11.35" text-anchor="middle" stroke="#2e2e2e" stroke-width="0.15">21</text>
<text x="28.20" y="613.00" font-size="11.35" text-anchor="middle" stroke="#2e2e2e" stroke-width="0.15">22</text>
<text x="31.40" y="725.40" font-size="11.35" text-anchor="middle" stroke="#2e2e2e" stroke-width="0.15">23</text>
<text x="29.30" y="779.00" font-size="11.35" text-anchor="middle" stroke="#2e2e2e" stroke-width="0.15">24</text>
<text x="30.00" y="915.20" font-size="11.35" text-anchor="middle" stroke="#2e2e2e" stroke-width="0.15">25</text>
<text x="1.20" y="1020.80" font-size="9.0" textLength="257.50" lengthAdjust="spacingAndGlyphs" fill="#262626" stroke="#262626" stroke-width="0.15">TN=塑料保持架，允许工作温度：120℃连续；180℃短期。</text>
<text x="1.20" y="1032.30" font-size="9.0" textLength="146.50" lengthAdjust="spacingAndGlyphs" fill="#262626" stroke="#262626" stroke-width="0.15">脂润滑极限转速为表列数值的60%</text>
<text x="283.00" y="1020.40" font-size="9.5" textLength="370.50" lengthAdjust="spacingAndGlyphs" fill="#262626" stroke="#262626" stroke-width="0.15">TN=plastic cage, permissble operating temperature:120℃ ( Continuous operation ) .</text>
<text x="283.00" y="1032.40" font-size="9.5" textLength="462.50" lengthAdjust="spacingAndGlyphs" fill="#262626" stroke="#262626" stroke-width="0.15">Limiting speed gor oil lubrication.For grease lubrication,60% of the values given in the table is permissble.</text>
</svg></body></html>
